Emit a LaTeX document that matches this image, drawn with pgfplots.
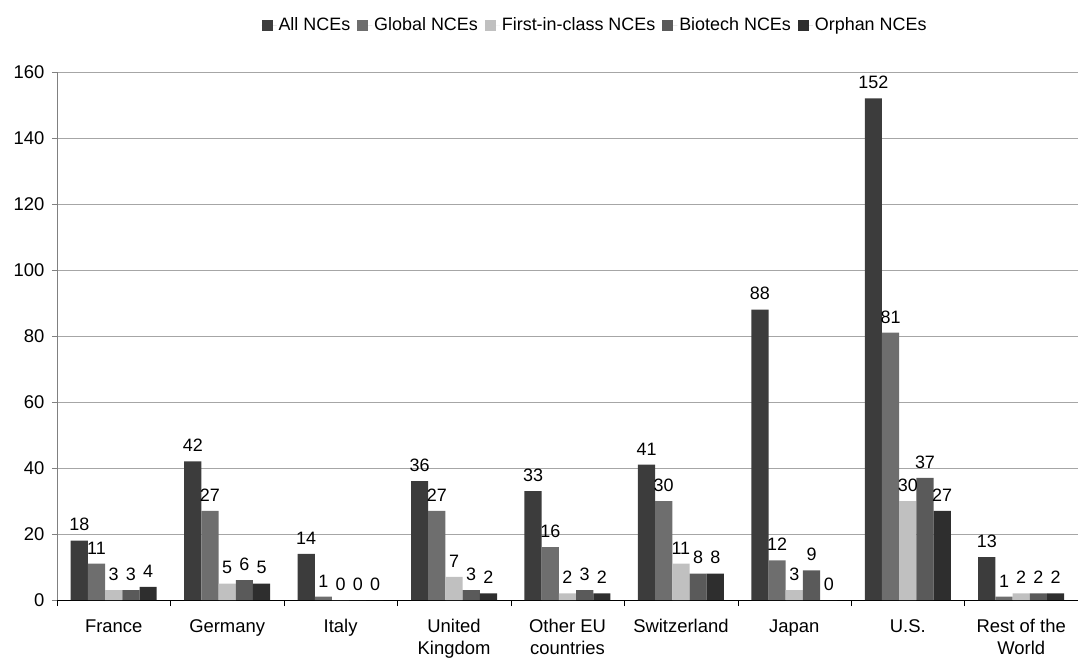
\documentclass[border=0pt]{standalone}
\usepackage{pgfplots}
\pgfplotsset{compat=1.18}
\usepackage{fontspec}
\setmainfont{Liberation Sans}
\definecolor{cA}{HTML}{3C3C3C}
\definecolor{cB}{HTML}{6E6E6E}
\definecolor{cC}{HTML}{C0C0C0}
\definecolor{cD}{HTML}{5A5A5A}
\definecolor{cE}{HTML}{2E2E2E}
\begin{document}
\begin{tikzpicture}
\useasboundingbox (-57bp,-61bp) rectangle (1021bp,600bp);
\begin{axis}[
  scale only axis, width=1021bp, height=528bp,
  ybar=0pt, bar width=17.2bp,
  xmin=-0.5, xmax=8.5, ymin=0, ymax=160,
  axis lines*=left,
  x axis line style={black},
  y axis line style={gray},
  xtick={0,...,8},
  xticklabels={France,Germany,Italy,{United\\Kingdom},{Other EU\\countries},Switzerland,Japan,U.S.,{Rest of the\\World}},
  major x tick style={draw=none},
  minor xtick={-0.5,0.5,...,8.5},
  minor tick length=6bp,
  minor x tick style={black},
  tick align=outside,
  ytick={0,20,...,160},
  major tick length=5bp,
  y tick style={gray},
  ymajorgrids, grid style={color=black!35, line width=0.8pt},
  tick label style={font=\fontsize{18.5}{21.5}\selectfont},
  xticklabel style={align=center, anchor=north, yshift=-11bp},
  yticklabel style={xshift=-4bp},
  /pgf/number format/assume math mode=true,
  nodes near coords,
  every node near coord/.append style={font=\fontsize{18}{20}\selectfont, text=black, yshift=6bp},
  legend style={at={(0.527,1.089)}, anchor=center, draw=none, fill=none,
    legend columns=-1, font=\fontsize{18}{20}\selectfont,
    /tikz/every even column/.append style={column sep=5bp}},
  legend image code/.code={\fill[#1] (0bp,-5.5bp) rectangle (11bp,5.5bp); \path (0bp,0bp) -- (15bp,0bp);},
  legend cell align=left,
]
\addplot[fill=cA, draw=none] coordinates {(0,18) (1,42) (2,14) (3,36) (4,33) (5,41) (6,88) (7,152) (8,13)};
\addplot[fill=cB, draw=none] coordinates {(0,11) (1,27) (2,1) (3,27) (4,16) (5,30) (6,12) (7,81) (8,1)};
\addplot[fill=cC, draw=none] coordinates {(0,3) (1,5) (2,0) (3,7) (4,2) (5,11) (6,3) (7,30) (8,2)};
\addplot[fill=cD, draw=none] coordinates {(0,3) (1,6) (2,0) (3,3) (4,3) (5,8) (6,9) (7,37) (8,2)};
\addplot[fill=cE, draw=none] coordinates {(0,4) (1,5) (2,0) (3,2) (4,2) (5,8) (6,0) (7,27) (8,2)};
\legend{All NCEs, Global NCEs, First-in-class NCEs, Biotech NCEs, Orphan NCEs}
\end{axis}
\end{tikzpicture}
\end{document}
